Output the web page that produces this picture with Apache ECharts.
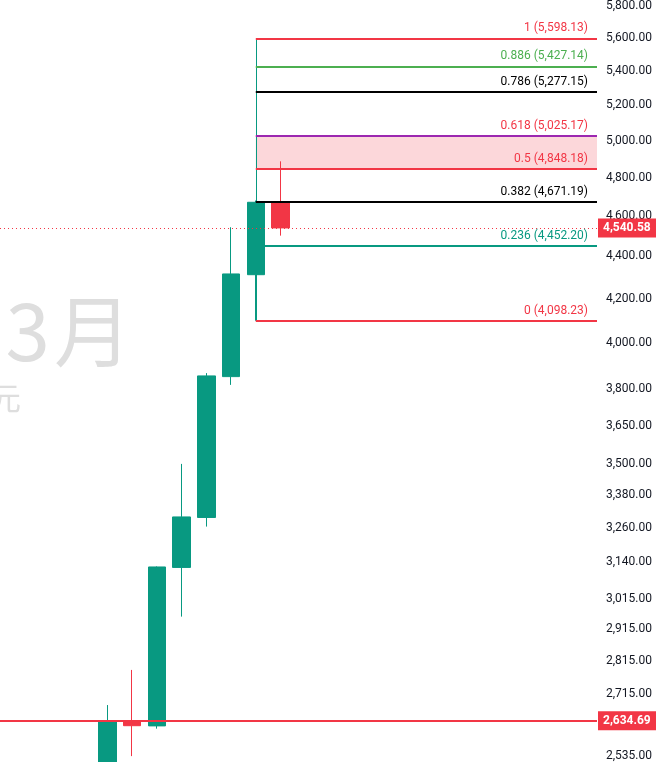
<!DOCTYPE html>
<html>
<head>
<meta charset="utf-8">
<style>
  html, body { margin: 0; padding: 0; background: #ffffff; }
  #chart { width: 656px; height: 762px; }
</style>
<script src="https://cdn.jsdelivr.net/npm/echarts@6/dist/echarts.min.js"></script>
</head>
<body>
<div id="chart"></div>
<script>
// ---- data ----
var candleIndex = [0, 1, 2, 3, 4, 5, 6, 7];
var opens  = [2450, 2635, 2620, 3121, 3298, 3853, 4312, 4671];
var closes = [2635, 2620.6, 3122.6, 3300, 3856, 4315.6, 4671, 4540.58];
var lows   = [2400, 2534, 2612, 2956, 3265, 3818, 4098.23, 4502];
var highs  = [2681, 2787, 3124.5, 3499, 3868, 4544, 4680, 4887];

var tickValues = [5800, 5600, 5400, 5200, 5000, 4800, 4600, 4400, 4200, 4000,
                  3800, 3650, 3500, 3380, 3260, 3140, 3015, 2915, 2815, 2715, 2535];

var fibLevels = ['1', '0.886', '0.786', '0.618', '0.5', '0.382', '0.236', '0'];
var fibValues = [5598.13, 5427.14, 5277.15, 5025.17, 4848.18, 4671.19, 4452.20, 4098.23];
var fibColors = ['#f23645', '#4caf50', '#000000', '#9c27b0', '#f23645', '#000000', '#089981', '#f23645'];
var fibLabelColors = ['#f23645', '#4caf50', '#000000', '#f23645', '#f23645', '#000000', '#089981', '#f23645'];
var fibStartIndex = 6;

var lastPrice = 4540.58;
var levelPrice = 2634.69;

var watermarkDigit = '3';
var watermarkMonth = '月';
var watermarkSub = '美元';

// axis extents
var yMin = 2517.6, yMax = 5840;
var xMin = -4.335, xMax = 19.786;

function fmt(v) {
  return Number(v).toLocaleString('en-US', { minimumFractionDigits: 2, maximumFractionDigits: 2 });
}

var UP = '#089981', DOWN = '#f23645';

var candleData = candleIndex.map(function (x, i) {
  return [x, opens[i], closes[i], lows[i], highs[i]];
});

var fibLines = fibValues.map(function (v, i) {
  return [
    {
      coord: [fibStartIndex, v],
      lineStyle: { color: fibColors[i], width: 2, type: 'solid' },
      label: {
        show: true,
        position: 'insideEndTop',
        distance: [9, 4],
        formatter: fibLevels[i] + ' (' + fmt(v) + ')',
        color: fibLabelColors[i],
        fontSize: 12,
        fontFamily: 'Roboto'
      }
    },
    { coord: [xMax, v] }
  ];
});

var tagLabel = function (v) {
  return {
    show: true,
    position: 'end',
    distance: 1,
    formatter: fmt(v),
    color: '#ffffff',
    backgroundColor: '#f23645',
    fontSize: 12,
    fontWeight: 'bold',
    fontFamily: 'Roboto',
    lineHeight: 13,
    padding: [3, 6, 3, 5]
  };
};

var chart = echarts.init(document.getElementById('chart'), null, { renderer: 'canvas' });

var wmColor = '#dedede';
var option = {
  backgroundColor: '#ffffff',
  animation: false,
  graphic: [
    {
      type: 'text', x: 132, y: 331, z: -10,
      style: {
        text: watermarkMonth, textAlign: 'right', textVerticalAlign: 'middle',
        fontSize: 78, fontFamily: 'Noto Sans CJK SC', fill: wmColor
      }
    },
    {
      type: 'text', x: 50, y: 331, z: -10,
      style: {
        text: watermarkDigit, textAlign: 'right', textVerticalAlign: 'middle',
        fontSize: 80, fontFamily: 'Noto Sans CJK SC', fill: wmColor
      }
    },
    {
      type: 'text', x: 21, y: 398, z: -10,
      style: {
        text: watermarkSub, textAlign: 'right', textVerticalAlign: 'middle',
        fontSize: 32, fontFamily: 'Noto Sans CJK SC', fill: wmColor
      }
    }
  ],
  grid: { left: 0, right: 59, top: 0, bottom: 0, containLabel: false },
  xAxis: {
    type: 'value', min: xMin, max: xMax, show: false,
    splitLine: { show: false }
  },
  yAxis: {
    type: 'log', position: 'right', min: yMin, max: yMax, logBase: 10,
    axisLine: { show: false }, axisTick: { show: false }, splitLine: { show: false },
    axisLabel: {
      customValues: tickValues,
      margin: 9,
      color: '#131722',
      fontSize: 12,
      fontFamily: 'Roboto',
      formatter: function (v) { return fmt(v); }
    }
  },
  series: [
    {
      type: 'candlestick',
      data: candleData,
      encode: { x: 0, y: [1, 2, 3, 4] },
      barWidth: 18,
      itemStyle: {
        color: UP, color0: DOWN, borderColor: UP, borderColor0: DOWN, borderWidth: 1
      },
      markArea: {
        silent: true,
        itemStyle: { color: 'rgba(242,54,69,0.2)' },
        data: [[{ coord: [fibStartIndex, fibValues[4]] }, { coord: [xMax, fibValues[3]] }]]
      },
      markLine: {
        silent: true,
        symbol: ['none', 'none'],
        animation: false,
        data: [
          [
            { coord: [fibStartIndex, fibValues[7]], lineStyle: { color: UP, width: 1, type: 'solid' }, label: { show: false } },
            { coord: [fibStartIndex, fibValues[0]] }
          ]
        ].concat(fibLines).concat([
          {
            yAxis: levelPrice,
            lineStyle: { color: '#f23645', width: 2, type: 'solid' },
            label: tagLabel(levelPrice)
          },
          {
            yAxis: lastPrice,
            lineStyle: { color: '#f23645', width: 1, type: [1, 3] },
            label: tagLabel(lastPrice)
          }
        ])
      }
    }
  ]
};

chart.setOption(option);
</script>
</body>
</html>
